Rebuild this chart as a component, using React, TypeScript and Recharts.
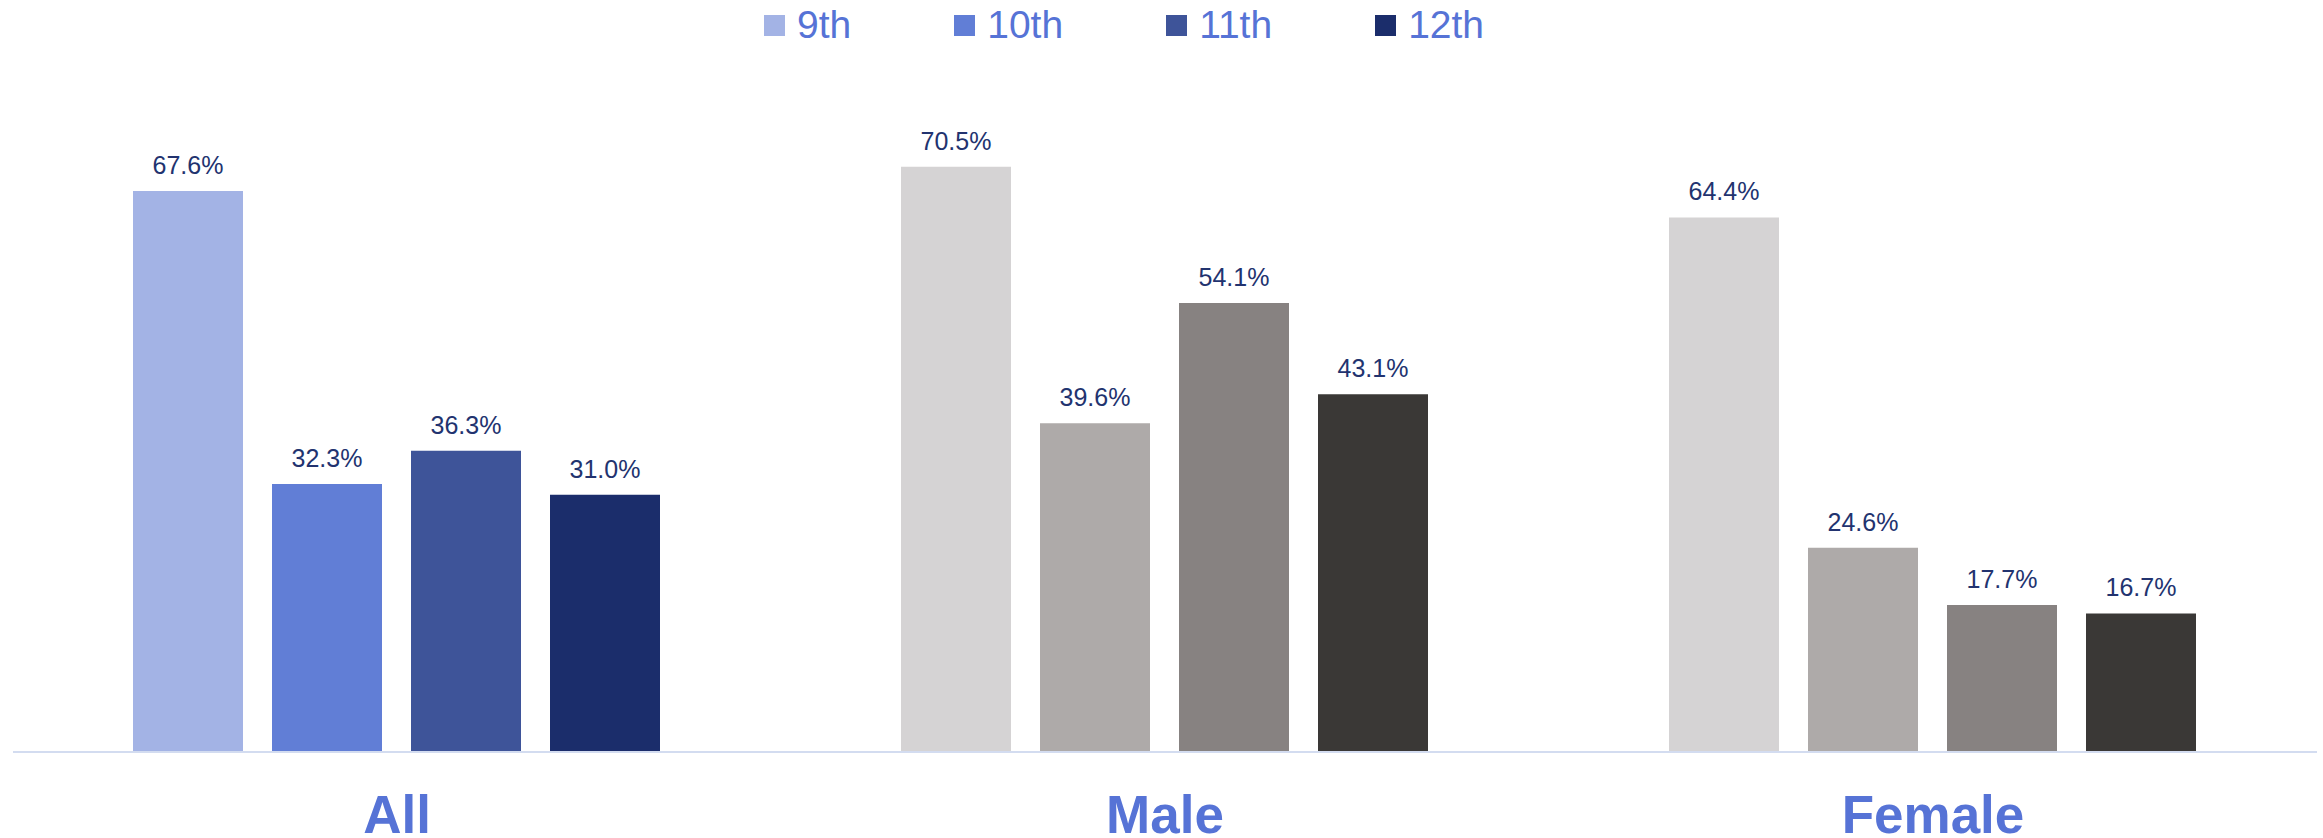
import React from "react";
import { BarChart, Bar, XAxis, YAxis, Legend, LabelList, Cell } from "recharts";

const CATEGORIES = ["All", "Male", "Female"];
const GRADES = ["9th", "10th", "11th", "12th"];

const GRADE_9 = [67.6, 70.5, 64.4];
const GRADE_10 = [32.3, 39.6, 24.6];
const GRADE_11 = [36.3, 54.1, 17.7];
const GRADE_12 = [31.0, 43.1, 16.7];

const BLUES = ["#A3B3E5", "#617ED6", "#3E5499", "#1B2D6B"];
const GRAYS = ["#D5D3D4", "#AEAAA9", "#878281", "#3A3836"];

const LABEL_COLOR = "#22336F";
const TEXT_BLUE = "#5673D6";

const SERIES = [GRADE_9, GRADE_10, GRADE_11, GRADE_12];
const KEYS = ["g9", "g10", "g11", "g12"];

const data = CATEGORIES.map((name, i) => {
  const row: Record<string, string | number> = { name };
  KEYS.forEach((k, s) => {
    row[k] = SERIES[s][i];
  });
  return row;
});

function CategoryTick({ x, y, payload }: any) {
  return (
    <text
      x={x}
      y={y + 81}
      textAnchor="middle"
      fill={TEXT_BLUE}
      fontSize={53}
      fontWeight="bold"
      fontFamily="'Liberation Sans', Arial, sans-serif"
    >
      {payload.value}
    </text>
  );
}

function GradeLegend() {
  return (
    <div
      style={{
        display: "flex",
        alignItems: "center",
        paddingLeft: 764,
        height: 50,
        fontFamily: "'Liberation Sans', Arial, sans-serif",
      }}
    >
      {GRADES.map((g, i) => (
        <div
          key={g}
          style={{ display: "flex", alignItems: "center", marginRight: 103 }}
        >
          <span
            style={{
              width: 21,
              height: 21,
              background: BLUES[i],
              display: "inline-block",
              marginRight: 12,
            }}
          />
          <span style={{ fontSize: 39, color: TEXT_BLUE, lineHeight: "50px" }}>{g}</span>
        </div>
      ))}
    </div>
  );
}

export default function App() {
  return (
    <div style={{ position: "absolute", left: 0, top: 0, width: 2323, height: 838, background: "#fff" }}>
      <BarChart
        width={2323}
        height={838}
        data={data}
        margin={{ top: 88, right: 6, bottom: 0, left: 13 }}
        barCategoryGap={120}
        barGap={29}
      >
        <XAxis
          dataKey="name"
          height={86}
          tickLine={false}
          tickSize={0}
          tickMargin={0}
          axisLine={{ stroke: "#D3DCF0", strokeWidth: 2 }}
          tick={<CategoryTick />}
          interval={0}
        />
        <YAxis hide domain={[0, 80]} />
        <Legend
          verticalAlign="middle"
          align="center"
          layout="horizontal"
          wrapperStyle={{ top: 0, left: 0, width: 2323 }}
          content={<GradeLegend />}
        />
        {KEYS.map((k, s) => (
          <Bar key={k} dataKey={k} name={GRADES[s]} fill={BLUES[s]} isAnimationActive={false}>
            {data.map((_, i) => (
              <Cell key={i} fill={i === 0 ? BLUES[s] : GRAYS[s]} />
            ))}
            <LabelList
              dataKey={k}
              position="top"
              offset={17}
              formatter={(v: any) => `${Number(v).toFixed(1)}%`}
              fill={LABEL_COLOR}
              fontSize={25}
              fontFamily="'Liberation Sans', Arial, sans-serif"
            />
          </Bar>
        ))}
      </BarChart>
    </div>
  );
}
